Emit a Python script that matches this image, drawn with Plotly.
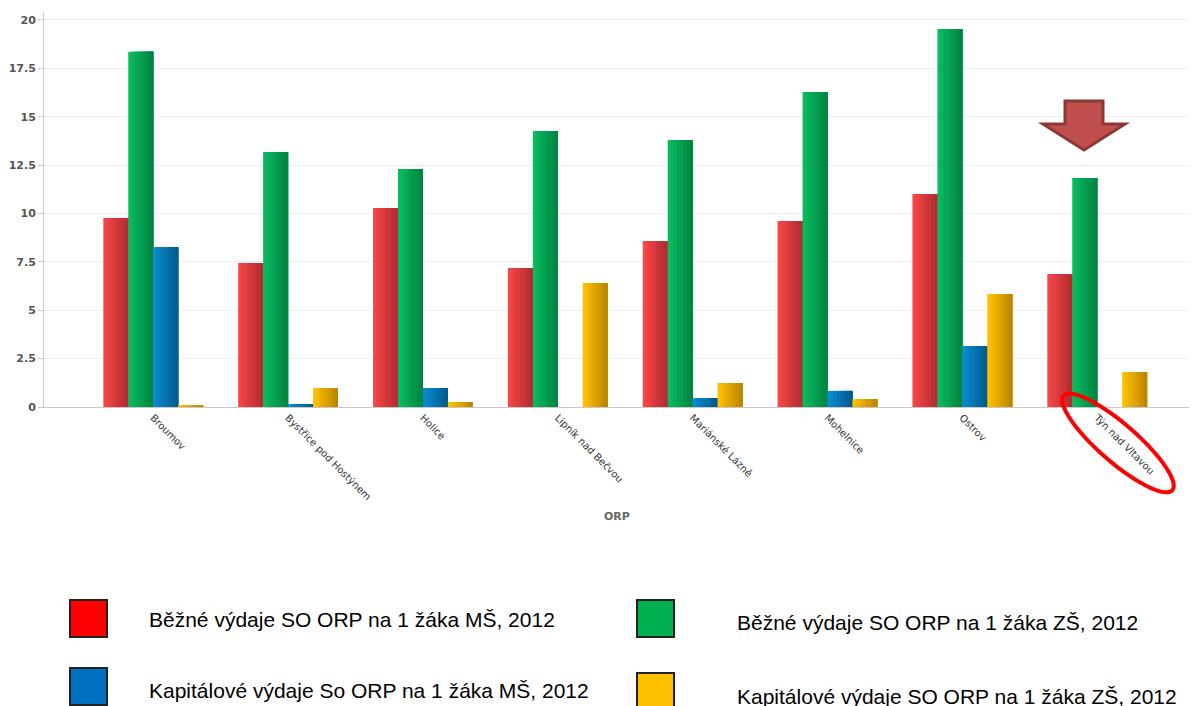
import numpy as np
import plotly.graph_objects as go

categories = ["Broumov", "Bystřice pod Hostýnem", "Holice", "Lipník nad Bečvou",
              "Mariánské Lázně", "Mohelnice", "Ostrov", "Týn nad Vltavou"]
bezne_ms = [9.77, 7.44, 10.28, 7.18, 8.58, 9.61, 11.0, 6.87]
bezne_zs = [18.35, 13.18, 12.3, 14.26, 13.8, 16.28, 19.53, 11.83]
kap_ms = [8.27, 0.15, 0.98, 0.0, 0.46, 0.83, 3.15, 0.0]
kap_zs = [0.1, 0.98, 0.26, 6.41, 1.24, 0.41, 5.84, 1.81]
y_ticks = [0, 2.5, 5, 7.5, 10, 12.5, 15, 17.5, 20]
legend_names = ["Běžné výdaje SO ORP na 1 žáka MŠ, 2012",
                "Běžné výdaje SO ORP na 1 žáka ZŠ, 2012",
                "Kapitálové výdaje So ORP na 1 žáka MŠ, 2012",
                "Kapitálové výdaje SO ORP na 1 žáka ZŠ, 2012"]

series = [bezne_ms, bezne_zs, kap_ms, kap_zs]
grad = [((246, 70, 70), (180, 44, 48)),
        ((10, 186, 96), (0, 134, 66)),
        ((10, 138, 210), (0, 92, 140)),
        ((255, 192, 0), (190, 134, 0))]
legend_colors = ["#FF0000", "#00B050", "#0070C0", "#FFC000"]

# page body margin of 8px offsets the figure
OFF = 8
W, H = 1197 - OFF, 706 - OFF
PLOT_LEFT, PLOT_TOP, PLOT_BOTTOM = 44, 12, 407   # in page pixels
L, R, T = PLOT_LEFT - OFF, 0, PLOT_TOP - OFF
B = H - (PLOT_BOTTOM - OFF)
pw, ph = W - L - R, H - T - B
def px(x):
    return (x - OFF - L) / pw
def py(y):
    return (PLOT_BOTTOM - y) / ph

fig = go.Figure()
xs = np.arange(len(categories))
bw = 0.185
N = 8
for s, vals in enumerate(series):
    left = -2 * bw + s * bw
    c0, c1 = grad[s]
    for k in range(N):
        t = k / (N - 1)
        col = "rgb(%d,%d,%d)" % tuple(int(round(c0[i] + (c1[i] - c0[i]) * t)) for i in range(3))
        fig.add_trace(go.Bar(
            x=xs, y=vals, width=bw * (N - k) / N, offset=left + k * bw / N,
            marker=dict(color=col, line=dict(width=0)),
            showlegend=False, hoverinfo="y"))

fig.update_layout(
    width=W, height=H, barmode="overlay",
    margin=dict(l=L, r=R, t=T, b=B),
    plot_bgcolor="white", paper_bgcolor="white",
    xaxis=dict(
        tickmode="array", tickvals=list(xs), ticktext=categories,
        range=[-0.81, 7.74], tickangle=45, showgrid=False,
        showline=True, linecolor="#c8c8c8", linewidth=1, ticks="",
        tickfont=dict(family="DejaVu Sans", size=10, color="#333333"),
        automargin=False),
    yaxis=dict(
        range=[0, 20.41], tickvals=y_ticks, ticktext=[f"{v:g}" for v in y_ticks],
        showgrid=True, gridcolor="#efefef", zeroline=False,
        showline=True, linecolor="#c8c8c8", linewidth=1,
        ticks="outside", ticklen=5, tickcolor="#c8c8c8",
        tickfont=dict(family="DejaVu Sans", size=11, color="#555555", weight="bold"),
        automargin=False),
)
fig.add_annotation(text="<b>ORP</b>", x=px(617), y=py(525), xref="paper", yref="paper",
                   showarrow=False, font=dict(family="DejaVu Sans", size=11, color="#666666"))

# custom legend
leg_pos = [(70, 600, 147, 619), (637, 600, 735, 622), (70, 668, 147, 690), (637, 673, 735, 696)]
for (sx, sy, tx, ty), name, col in zip(leg_pos, legend_names, legend_colors):
    fig.add_shape(type="rect", xref="paper", yref="paper",
                  x0=px(sx), x1=px(sx + 37), y0=py(sy), y1=py(sy + 37),
                  fillcolor=col, line=dict(color="#222222", width=2))
    fig.add_annotation(text=name, x=px(tx), y=py(ty), xref="paper", yref="paper",
                       xanchor="left", yanchor="middle", showarrow=False,
                       font=dict(family="Liberation Sans", size=21, color="#000000"))

# down arrow marker
arrow = [(1065, 101), (1103, 101), (1103, 124), (1125, 124), (1084, 150), (1043, 124), (1065, 124)]
path = "M " + " L ".join(f"{px(x):.5f},{py(y):.5f}" for x, y in arrow) + " Z"
fig.add_shape(type="path", xref="paper", yref="paper", path=path,
              fillcolor="#C0504D", line=dict(color="#8C3836", width=3))

# red ellipse around Týn nad Vltavou
cx, cy, a, b, ang = 1118, 443, 72, 19, np.deg2rad(41)
th = np.linspace(0, 2 * np.pi, 73)
ex = cx + a * np.cos(th) * np.cos(ang) - b * np.sin(th) * np.sin(ang)
ey = cy + a * np.cos(th) * np.sin(ang) + b * np.sin(th) * np.cos(ang)
epath = "M " + " L ".join(f"{px(x):.5f},{py(y):.5f}" for x, y in zip(ex, ey)) + " Z"
fig.add_shape(type="path", xref="paper", yref="paper", path=epath,
              line=dict(color="#FF0000", width=4))

fig.write_html("out.html")
